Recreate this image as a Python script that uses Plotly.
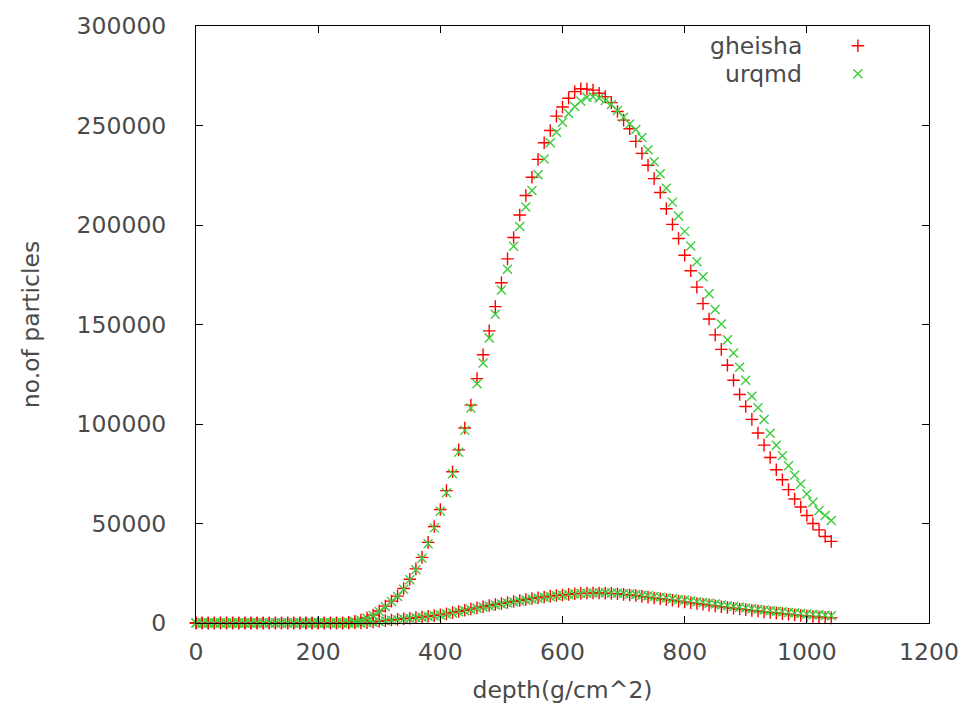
import plotly.graph_objects as go

# Depth grid (g/cm^2), sampled every 10 g/cm^2
depth = list(range(0, 1041, 10))

# Main shower profile, GHEISHA hadronic model
gheisha_main = [
    0, 0, 0, 0, 0, 0, 0, 0, 0, 0, 0, 0, 0, 0, 0, 0, 0, 0, 0, 0, 0, 0, 0, 0, 0,
    300, 800, 1500, 2500, 4000, 6000, 8500, 11000, 13500, 17300,
    22000, 27200, 33000, 40500, 48500, 57000, 66500, 76000, 87000, 98000,
    109500, 122800, 134800, 146800, 159000, 171000, 183000, 193700, 205000, 214800,
    224000, 233000, 241300, 247500, 254700, 259300, 263700, 267000, 268500, 268300,
    267800, 266200, 264500, 261500, 257000, 252700, 248400, 242000, 236000, 230000,
    223300, 216300, 208200, 200300, 193200, 184800, 177000, 168800, 160500, 152800,
    144800, 137500, 129500, 122000, 114800, 108800, 102300, 95500, 89400, 83200,
    77000, 72000, 67000, 62300, 58300, 54000, 50000, 46800, 43500, 41000,
]

# Main shower profile, UrQMD hadronic model
urqmd_main = [
    0, 0, 0, 0, 0, 0, 0, 0, 0, 0, 0, 0, 0, 0, 0, 0, 0, 0, 0, 0, 0, 0, 0, 0, 0,
    300, 700, 1400, 2400, 3800, 5800, 8200, 10800, 13300, 17000,
    21700, 26800, 32500, 39800, 47800, 56200, 65500, 75000, 85800, 96800,
    108000, 120200, 130700, 143200, 155200, 167300, 177800, 189300, 199300, 209000,
    217300, 225300, 233200, 241300, 246600, 251600, 256000, 259500, 262200, 264200,
    264500, 263800, 262500, 260500, 257500, 254200, 250800, 248000, 244000, 237800,
    231800, 225700, 218500, 211500, 204500, 196800, 189500, 181500, 174000, 165500,
    157500, 150200, 142300, 135700, 128500, 122000, 114000, 108200, 102300, 95300,
    89300, 84000, 79000, 74300, 69800, 64800, 60700, 56500, 54000, 51500,
]

# Secondary (low) profile, GHEISHA
gheisha_low = [
    0, 0, 0, 0, 0, 0, 0, 0, 0, 0, 0, 0, 0, 0, 0, 0, 0, 0, 0, 0, 0, 0, 0, 0, 0,
    0, 0, 0,
    200, 500, 900, 1200, 1500, 1800, 2100, 2400, 2700, 3000,
    3400, 3700, 4100, 4600, 5200, 5800, 6400, 7000, 7600, 8200,
    8800, 9300, 9800, 10300, 10800, 11300, 11800, 12300, 12700, 13100,
    13500, 13800, 14100, 14400, 14700, 14900, 15000, 15100, 15100, 15000,
    14900, 14700, 14400, 14100, 13800, 13400, 13000, 12600, 12200, 11800,
    11400, 11000, 10600, 10200, 9800, 9400, 9000, 8600, 8200, 7800,
    7400, 7000, 6700, 6300, 6000, 5600, 5300, 5000, 4700, 4400,
    4100, 3800, 3500, 3300, 3000, 2800, 2600,
]

# Secondary (low) profile, UrQMD
urqmd_low = [
    0, 0, 0, 0, 0, 0, 0, 0, 0, 0, 0, 0, 0, 0, 0, 0, 0, 0, 0, 0, 0, 0, 0, 0, 0,
    0, 0, 0,
    200, 400, 800, 1100, 1400, 1700, 2000, 2300, 2600, 2900,
    3300, 3600, 4000, 4500, 5000, 5600, 6200, 6800, 7400, 8000,
    8600, 9100, 9600, 10100, 10600, 11100, 11600, 12100, 12500, 12900,
    13300, 13700, 14000, 14300, 14600, 14800, 15000, 15100, 15200, 15200,
    15100, 15000, 14800, 14600, 14300, 14000, 13700, 13300, 13000, 12600,
    12200, 11800, 11500, 11100, 10700, 10300, 9900, 9500, 9100, 8700,
    8300, 7900, 7600, 7200, 6900, 6500, 6200, 5900, 5600, 5300,
    5000, 4800, 4500, 4300, 4100, 3900, 3700,
]

series_names = ["gheisha", "urqmd"]
RED = "#ff0000"
GREEN = "#3ccc3c"
FONT = "DejaVu Sans"
TXT = "#4a4a4a"
FS = 23.5

fig = go.Figure()

def add_points(y, symbol, color):
    fig.add_trace(go.Scatter(
        x=depth, y=y, mode="markers", showlegend=False, cliponaxis=False,
        marker=dict(symbol=symbol, size=9, color=color,
                    line=dict(width=1.4, color=color)),
    ))

add_points(gheisha_main, "cross-thin", RED)
add_points(gheisha_low, "cross-thin", RED)
add_points(urqmd_main, "x-thin", GREEN)
add_points(urqmd_low, "x-thin", GREEN)

# Key samples drawn on an overlay axis spanning the plot area (0..1)
fig.add_trace(go.Scatter(
    x=[0.903, 0.903], y=[0.967, 0.92], xaxis="x2", yaxis="y2",
    mode="markers", showlegend=False, cliponaxis=False,
    marker=dict(symbol=["cross-thin", "x-thin"], size=9, color=[RED, GREEN],
                line=dict(width=1.4, color=[RED, GREEN])),
))

for name, yy in zip(series_names, [0.967, 0.92]):
    fig.add_annotation(x=0.83, y=yy, xref="x2", yref="y2", text=name,
                       showarrow=False, xanchor="right", yanchor="middle",
                       font=dict(family=FONT, size=FS, color=TXT))

axis_common = dict(
    showline=True, linecolor="#000000", linewidth=1, mirror="ticks",
    ticks="inside", ticklen=7, tickcolor="#000000", tickwidth=1,
    showgrid=False, zeroline=False,
    tickfont=dict(family=FONT, size=FS, color=TXT),
)

fig.update_layout(
    width=972, height=711,
    margin=dict(l=196, r=43, t=23, b=88),
    paper_bgcolor="white", plot_bgcolor="white",
    xaxis=dict(range=[0, 1200], tickmode="linear", tick0=0, dtick=200,
               ticklabelstandoff=8,
               title=dict(text="depth(g/cm^2)", standoff=16,
                          font=dict(family=FONT, size=FS, color=TXT)),
               **axis_common),
    yaxis=dict(range=[0, 300000], tickmode="linear", tick0=0, dtick=50000,
               tickformat="d", ticklabelstandoff=24,
               title=dict(text="no.of particles", standoff=30,
                          font=dict(family=FONT, size=FS, color=TXT)),
               **axis_common),
    xaxis2=dict(range=[0, 1], overlaying="x", visible=False),
    yaxis2=dict(range=[0, 1], overlaying="y", visible=False),
)

fig.write_html("out.html")
